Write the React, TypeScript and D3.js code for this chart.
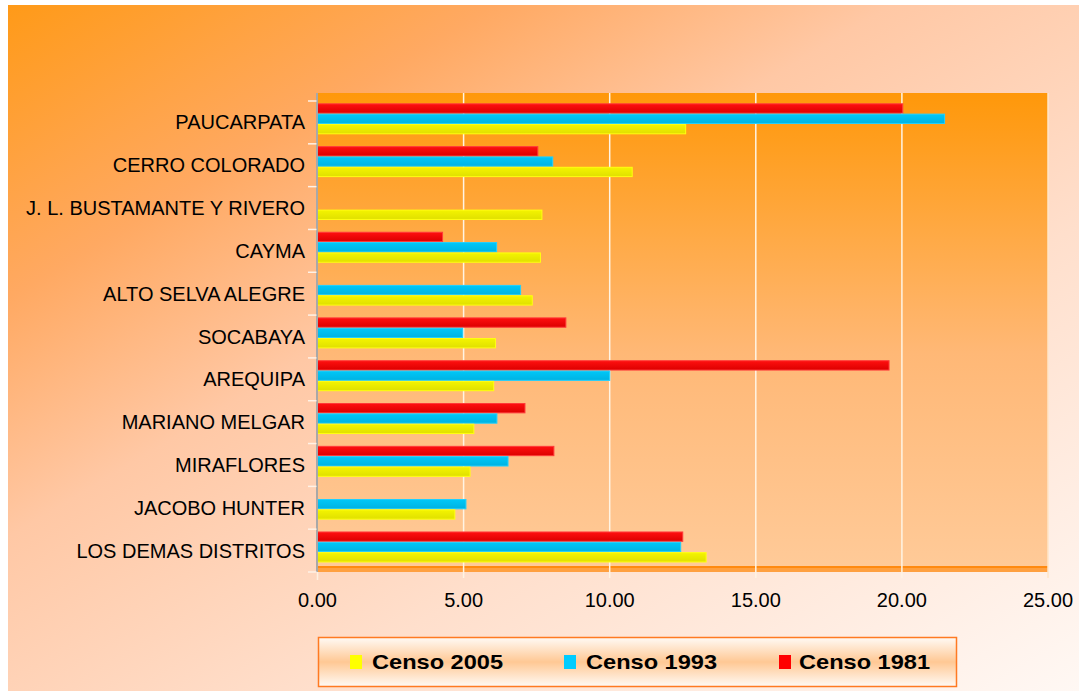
import React from "react";
import * as d3 from "d3";

const categories = [
  "PAUCARPATA",
  "CERRO COLORADO",
  "J. L. BUSTAMANTE Y RIVERO",
  "CAYMA",
  "ALTO SELVA ALEGRE",
  "SOCABAYA",
  "AREQUIPA",
  "MARIANO MELGAR",
  "MIRAFLORES",
  "JACOBO HUNTER",
  "LOS DEMAS DISTRITOS",
];
const censo2005 = [12.6, 10.77, 7.68, 7.63, 7.35, 6.09, 6.03, 5.35, 5.22, 4.7, 13.3];
const censo1993 = [21.46, 8.05, 0, 6.13, 6.95, 4.97, 10.0, 6.14, 6.52, 5.08, 12.43];
const censo1981 = [20.03, 7.54, 0, 4.28, 0, 8.5, 19.56, 7.1, 8.09, 0, 12.5];
const seriesNames = ["Censo 2005", "Censo 1993", "Censo 1981"];
const xTicks = [0, 5, 10, 15, 20, 25];

const seriesStyle: Record<string, { top: string; bottom: string; stroke: string; legend: string }> = {
  "Censo 1981": { top: "#ff1010", bottom: "#dc0000", stroke: "#ff3a3a", legend: "#ff0000" },
  "Censo 1993": { top: "#00c8f8", bottom: "#00b2e2", stroke: "#20d0ff", legend: "#00ccff" },
  "Censo 2005": { top: "#f4f400", bottom: "#e0e000", stroke: "#ffff10", legend: "#ffff00" },
};

const W = 1079;
const H = 691;
const plotLeft = 317.5;
const plotRight = 1048;
const plotTop = 93;
const floorTop = 566;
const bandTop = 101;
const bandBottom = 572;

export default function App() {
  const x = d3.scaleLinear().domain([0, 25]).range([plotLeft, plotRight]);
  const y = d3.scaleBand<string>().domain(categories).range([bandTop, bandBottom]).padding(0);
  // bars drawn top-to-bottom: 1981, 1993, 2005
  const barOrder = ["Censo 1981", "Censo 1993", "Censo 2005"];
  const inner = d3.scaleBand<string>().domain(barOrder).range([2.3, 33.3]).padding(0);
  const valuesBySeries: Record<string, number[]> = {
    "Censo 2005": censo2005,
    "Censo 1993": censo1993,
    "Censo 1981": censo1981,
  };

  const font = "'Liberation Sans', Arial, Helvetica, sans-serif";
  const boundaries = [...categories.map((c) => y(c)!), bandBottom];

  const legendX = [350, 564, 779];
  const legendTextX = [372, 586, 799];

  return (
    <svg
      width={W}
      height={H}
      style={{ position: "absolute", left: 0, top: 0, display: "block" }}
      fontFamily={font}
    >
      <defs>
        <linearGradient id="bgGrad" gradientUnits="userSpaceOnUse" x1={8} y1={5} x2={596} y2={982}>
          <stop offset="0" stopColor="#ff9a18" />
          <stop offset="0.22" stopColor="#ffa962" />
          <stop offset="0.4" stopColor="#ffc8a5" />
          <stop offset="0.65" stopColor="#ffdfcc" />
          <stop offset="1" stopColor="#fff8f4" />
        </linearGradient>
        <linearGradient id="plotGrad" x1="0" y1="0" x2="0" y2="1">
          <stop offset="0" stopColor="#ff980a" />
          <stop offset="0.55" stopColor="#ffb876" />
          <stop offset="1" stopColor="#ffca98" />
        </linearGradient>
        <linearGradient id="legendGrad" x1="0" y1="0" x2="0" y2="1">
          <stop offset="0" stopColor="#fffaf5" />
          <stop offset="0.5" stopColor="#ffc894" />
          <stop offset="1" stopColor="#fffaf5" />
        </linearGradient>
        {barOrder.map((s, i) => (
          <linearGradient key={s} id={`barGrad${i}`} x1="0" y1="0" x2="0" y2="1">
            <stop offset="0" stopColor={seriesStyle[s].top} />
            <stop offset="1" stopColor={seriesStyle[s].bottom} />
          </linearGradient>
        ))}
      </defs>

      <rect x={0} y={0} width={W} height={H} fill="#ffffff" />
      <rect x={8} y={5} width={W - 8} height={H - 5} fill="url(#bgGrad)" />

      {/* plot area */}
      <rect x={plotLeft} y={plotTop} width={plotRight - plotLeft} height={floorTop - plotTop} fill="url(#plotGrad)" />
      {/* floor */}
      <rect x={plotLeft} y={floorTop} width={plotRight - plotLeft} height={bandBottom - floorTop} fill="#ffa040" />
      <rect x={plotLeft} y={floorTop} width={plotRight - plotLeft} height={2} fill="#ff8a10" />

      {/* gridlines */}
      {xTicks.map((t) => (
        <line
          key={t}
          x1={x(t)}
          x2={x(t)}
          y1={plotTop}
          y2={t === 0 ? plotTop : 578}
          stroke={t === 25 ? "#ffe6c8" : "#fff4e4"}
          strokeWidth={1.5}
        />
      ))}
      <line x1={x(0)} x2={x(0)} y1={bandBottom} y2={580} stroke="#fff0e0" strokeWidth={1.5} />

      {/* bars */}
      {barOrder.map((s, si) =>
        categories.map((c, ci) => {
          const v = valuesBySeries[s][ci];
          if (v <= 0) return null;
          const by = y(c)! + inner(s)!;
          return (
            <rect
              key={s + c}
              x={x(0)}
              y={by + 0.5}
              width={x(v) - x(0)}
              height={inner.bandwidth() - 1}
              fill={`url(#barGrad${si})`}
              stroke={seriesStyle[s].stroke}
              strokeWidth={1}
            />
          );
        })
      )}

      {/* vertical axis */}
      <line x1={plotLeft - 0.5} x2={plotLeft - 0.5} y1={plotTop} y2={bandBottom} stroke="#a8a8a8" strokeWidth={2} />
      {boundaries.map((b, i) => (
        <line key={i} x1={308} x2={plotLeft - 1} y1={b} y2={b} stroke="#fff2e6" strokeWidth={1.5} />
      ))}

      {/* category labels */}
      {categories.map((c) => (
        <text
          key={c}
          x={305}
          y={y(c)! + y.bandwidth() / 2 + 7}
          textAnchor="end"
          fontSize={20}
          fill="#000"
        >
          {c}
        </text>
      ))}

      {/* x tick labels */}
      {xTicks.map((t) => (
        <text key={t} x={x(t)} y={607} textAnchor="middle" fontSize={20} fill="#000">
          {d3.format(".2f")(t)}
        </text>
      ))}

      {/* legend */}
      <rect x={318.5} y={637.5} width={638} height={49} fill="url(#legendGrad)" stroke="#ff7a22" strokeWidth={1.5} />
      {seriesNames.map((s, i) => (
        <g key={s}>
          <rect x={legendX[i]} y={655} width={12} height={14} fill={seriesStyle[s].legend} />
          <text
            x={legendTextX[i]}
            y={669}
            fontSize={21}
            fontWeight="bold"
            fill="#000"
            textLength={131}
            lengthAdjust="spacingAndGlyphs"
          >
            {s}
          </text>
        </g>
      ))}
    </svg>
  );
}
